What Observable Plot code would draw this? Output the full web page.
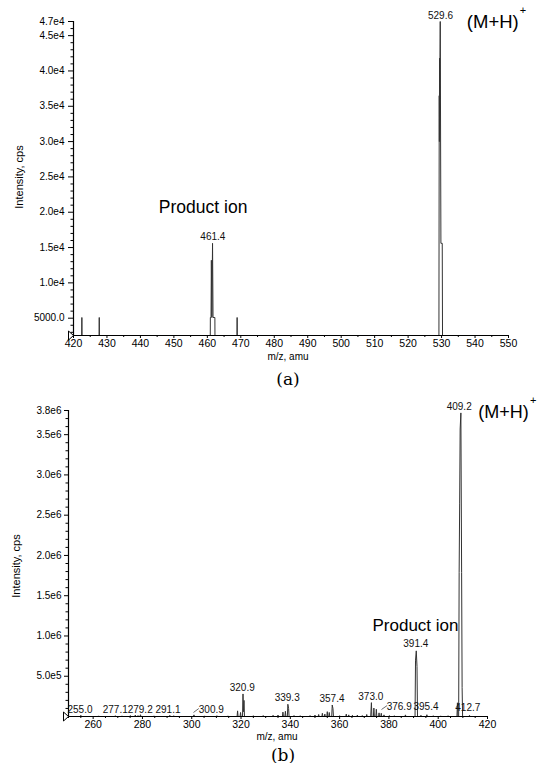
<!DOCTYPE html>
<html>
<head>
<meta charset="utf-8">
<script src="https://cdn.jsdelivr.net/npm/d3@7"></script>
<script src="https://cdn.jsdelivr.net/npm/@observablehq/plot@0.6"></script>
<style>
  html, body { margin: 0; padding: 0; background: #fff; }
  #wrap { position: relative; width: 538px; height: 763px; overflow: hidden; background: #fff;
          font-family: 'Liberation Sans', Arial, sans-serif; color: #000; }
  .lab { position: absolute; white-space: nowrap; line-height: 1; }
</style>
</head>
<body>
<div id="wrap"></div>
<script>
// ---------------- Spectrum (a) ----------------
const aXDomain = [420, 550];
const aYDomain = [2550, 47000];
const aXTicks = [420, 430, 440, 450, 460, 470, 480, 490, 500, 510, 520, 530, 540, 550];
const aYTicks = [5000, 10000, 15000, 20000, 25000, 30000, 35000, 40000, 45000, 47000];
const aMz = [420, 422.4, 422.5, 422.6, 427.6, 427.7, 427.8,
  460.85, 460.9, 461.1, 461.2, 461.35, 461.55, 461.7, 462.25, 462.3,
  468.8, 468.9, 469.0,
  529.2, 529.3, 529.35, 529.4, 529.45, 529.6, 529.8, 530.2, 530.3, 550];
const aIntensity = [0, 0, 5100, 0, 0, 5100, 0,
  0, 5100, 5100, 13200, 5100, 15600, 5100, 5100, 0,
  0, 5100, 0,
  0, 36500, 30000, 41800, 36000, 47000, 15600, 15600, 0, 0];
const aPeakLabels = ["461.4", "529.6"];
const aPeakLabelMz = [461.64, 529.68];
const aPeakLabelInt = [16466, 47850];
const aNotes = ["Product ion", "(M+H)", "+"];
const aNoteMz = [458.74, 545.31, 554.3];
const aNoteInt = [20712, 46900, 48557];

// ---------------- Spectrum (b) ----------------
const bXDomain = [250, 420];
const bYDomain = [0, 3800000];
const bXTicks = [260, 280, 300, 320, 340, 360, 380, 400, 420];
const bYTicks = [500000, 1000000, 1500000, 2000000, 2500000, 3000000, 3500000, 3800000];
const bMz = [250, 254.8, 255.0, 255.2, 262.0, 262.2, 262.4, 268.8, 269.0, 269.2, 271.5, 271.7, 271.9,
  274.9, 275.1, 275.3, 276.9, 277.1, 277.3, 278.0, 278.2, 278.4, 279.0, 279.2, 279.4,
  284.5, 284.7, 284.9, 290.9, 291.1, 291.3, 292.5, 292.7, 292.9, 300.7, 300.9, 301.1,
  305.0, 305.2, 305.4, 310.0, 310.2, 310.4, 314.5, 314.7, 314.9,
  318.4, 318.6, 318.8, 319.6, 319.8, 320.0, 320.6, 320.8, 321.0, 321.2, 321.4,
  324.8, 325.0, 325.2, 328.8, 329.0, 329.2, 332.8, 333.0, 333.2, 334.8, 335.0, 335.2,
  336.8, 337.0, 337.2, 337.8, 338.0, 338.2, 338.8, 339.0, 339.3, 339.5,
  341.3, 341.5, 341.7, 343.8, 344.0, 344.2, 347.8, 348.0, 348.2, 349.8, 350.0, 350.2,
  351.3, 351.5, 351.7, 352.8, 353.0, 353.2, 353.8, 354.0, 354.2, 354.8, 355.0, 355.2,
  355.6, 355.8, 356.0, 356.8, 357.0, 357.3, 357.5,
  359.8, 360.0, 360.2, 362.5, 362.7, 362.9, 363.5, 363.7, 363.9, 365.0, 365.2, 365.4,
  367.0, 367.2, 367.4, 369.0, 369.2, 369.4, 370.8, 371.0, 371.2,
  372.6, 372.9, 373.1, 373.7, 373.9, 374.1, 374.7, 374.9, 375.1, 375.8, 376.0, 376.2,
  376.7, 376.9, 377.1, 377.8, 378.0, 378.2, 380.0, 380.2, 380.4, 382.0, 382.2, 382.4,
  386.5, 386.7, 386.9, 390.6, 390.8, 391.1, 391.4, 391.6,
  392.8, 393.0, 393.2, 395.2, 395.4, 395.6, 397.8, 398.0, 398.2, 400.8, 401.0, 401.2,
  403.8, 404.0, 404.2, 407.6, 407.8, 408.0,
  408.3, 408.5, 408.7, 408.9, 409.2, 409.5, 409.7, 409.9, 412.5, 412.7, 412.9, 420];
const bIntensity = [0, 0, 15000, 0, 0, 8000, 0, 0, 10000, 0, 0, 8000, 0,
  0, 12000, 0, 0, 18000, 0, 0, 12000, 0, 0, 22000, 0,
  0, 8000, 0, 0, 15000, 0, 0, 10000, 0, 0, 20000, 0,
  0, 8000, 0, 0, 10000, 0, 0, 8000, 0,
  0, 70000, 0, 0, 50000, 0, 0, 280000, 60000, 200000, 0,
  0, 10000, 0, 0, 12000, 0, 0, 15000, 0, 0, 18000, 0,
  0, 55000, 0, 0, 65000, 0, 0, 152000, 100000, 0,
  0, 12000, 0, 0, 10000, 0, 0, 12000, 0, 0, 18000, 0,
  0, 25000, 0, 0, 40000, 0, 0, 30000, 0, 0, 60000, 0,
  0, 50000, 0, 0, 143000, 100000, 0,
  0, 10000, 0, 0, 30000, 0, 0, 20000, 0, 0, 15000, 0,
  0, 18000, 0, 0, 12000, 0, 0, 25000, 0,
  0, 172000, 0, 0, 105000, 0, 0, 90000, 0, 0, 45000, 0,
  0, 40000, 0, 0, 20000, 0, 0, 12000, 0, 0, 10000, 0,
  0, 20000, 0, 0, 700000, 815000, 620000, 0,
  0, 15000, 0, 0, 22000, 0, 0, 10000, 0, 0, 8000, 0,
  0, 10000, 0, 0, 170000, 0,
  0, 1790000, 2640000, 3570000, 3770000, 1790000, 360000, 0, 0, 15000, 0, 0];
const bPeakLabels = ["255.0", "277.1", "279.2", "291.1", "300.9", "320.9", "339.3", "357.4",
  "373.0", "376.9", "395.4", "412.7", "391.4", "409.2"];
const bPeakLabelMz = [254.67, 268.95, 279.09, 290.37, 307.94, 320.48, 338.73, 356.91,
  372.65, 384.17, 395.05, 412.0, 390.91, 408.52];
const bPeakLabelInt = [83200, 86900, 86900, 86900, 86900, 356400, 227200, 219800,
  248400, 124200, 124200, 103100, 902800, 3841000];
const bLeaderMz1 = [300.7, 376.99];
const bLeaderInt1 = [49700, 86900];
const bLeaderMz2 = [302.87, 379.3];
const bLeaderInt2 = [99000, 136600];
const bNotes = ["Product ion", "(M+H)", "+"];
const bNoteMz = [390.79, 426.49, 438.54];
const bNoteInt = [1130000, 3779000, 3924000];

// ---------------- helpers ----------------
const FONT = "'Liberation Sans', Arial, sans-serif";
const LINE = "#333";
const zipXY = (xs, ys) => xs.map((x, i) => ({mz: x, intensity: ys[i]}));
const zipText = (t, xs, ys) => t.map((s, i) => ({text: s, mz: xs[i], intensity: ys[i]}));
const originMarker = {
  draw(ctx) { ctx.moveTo(-3, -4.5); ctx.lineTo(2, 0); ctx.lineTo(-3, 4.5); ctx.closePath(); }
};
const fmtA = d => d < 10000 ? d.toFixed(1) : d.toExponential(1).replace("e+", "e");
const fmtB = d => d.toExponential(1).replace("e+", "e");

function spectrum(cfg) {
  const minorY = d3.range(cfg.yMinorStart, cfg.yDomain[1] + 1, cfg.yMinorStep).filter(v => !cfg.yTicks.includes(v));
  const minorX = d3.range(cfg.xDomain[0], cfg.xDomain[1] + 0.001, cfg.xMinorStep).filter(v => !cfg.xTicks.includes(v));
  const notes = cfg.notes;
  return Plot.plot({
    width: 538, height: cfg.height,
    marginLeft: cfg.ml, marginRight: cfg.mr, marginTop: cfg.mt, marginBottom: cfg.mb,
    x: {domain: cfg.xDomain},
    y: {domain: cfg.yDomain},
    style: {fontFamily: FONT, fontSize: "10px", color: "#000", background: "transparent",
            position: "absolute", left: "0px", top: cfg.top + "px", overflow: "visible"},
    marks: [
      Plot.line(cfg.spec, {x: "mz", y: "intensity", stroke: LINE, strokeWidth: 1, clip: true}),
      Plot.ruleX([cfg.xDomain[0]], {stroke: "#000", strokeWidth: 1.2}),
      Plot.ruleY([cfg.yDomain[0]], {stroke: "#000", strokeWidth: 1.2}),
      Plot.axisY(cfg.yTicks, {tickSize: cfg.yTickSize, tickPadding: cfg.yTickPad, tickFormat: cfg.fmt, label: null, fontSize: 10}),
      Plot.axisY(minorY, {tickSize: 2.5, tickFormat: () => "", label: null}),
      Plot.axisX(cfg.xTicks, {tickSize: 3, tickPadding: 1, tickFormat: d => String(d), label: null, fontSize: 10.5}),
      Plot.axisX(minorX, {tickSize: 2, tickFormat: () => "", label: null}),
      Plot.dot([0], {frameAnchor: "bottom-left", dx: -2, symbol: originMarker, r: 4, stroke: "#000", fill: "#fff", strokeWidth: 1}),
      ...(cfg.leaders ? [Plot.link(cfg.leaders, {x1: "x1", y1: "y1", x2: "x2", y2: "y2", stroke: "#444", strokeWidth: 0.8})] : []),
      Plot.text(cfg.labels, {x: "mz", y: "intensity", text: "text", fontSize: 10, fill: "#111", lineAnchor: "middle"}),
      Plot.text(notes.slice(0, 1), {x: "mz", y: "intensity", text: "text", fontSize: cfg.noteSize, fill: "#000", lineAnchor: "middle"}),
      Plot.text(notes.slice(1, 2), {x: "mz", y: "intensity", text: "text", fontSize: cfg.mhSize, fill: "#000", lineAnchor: "middle"}),
      Plot.text(notes.slice(2, 3), {x: "mz", y: "intensity", text: "text", fontSize: 11, fill: "#000", lineAnchor: "middle"})
    ]
  });
}

const wrap = document.getElementById("wrap");

wrap.appendChild(spectrum({
  top: 0, height: 352, ml: 73, mr: 30, mt: 21, mb: 17,
  xDomain: aXDomain, yDomain: aYDomain, xTicks: aXTicks, yTicks: aYTicks,
  yMinorStart: 3000, yMinorStep: 1000, xMinorStep: 5, yTickSize: 5, yTickPad: 4, fmt: fmtA,
  spec: zipXY(aMz, aIntensity),
  labels: zipText(aPeakLabels, aPeakLabelMz, aPeakLabelInt),
  notes: zipText(aNotes, aNoteMz, aNoteInt), noteSize: 17.5, mhSize: 18.5
}));

wrap.appendChild(spectrum({
  top: 390, height: 343, ml: 68, mr: 51, mt: 20, mb: 17,
  xDomain: bXDomain, yDomain: bYDomain, xTicks: bXTicks, yTicks: bYTicks,
  yMinorStart: 100000, yMinorStep: 100000, xMinorStep: 5, yTickSize: 4, yTickPad: 3, fmt: fmtB,
  spec: zipXY(bMz, bIntensity),
  labels: zipText(bPeakLabels, bPeakLabelMz, bPeakLabelInt),
  leaders: bLeaderMz1.map((x, i) => ({x1: x, y1: bLeaderInt1[i], x2: bLeaderMz2[i], y2: bLeaderInt2[i]})),
  notes: zipText(bNotes, bNoteMz, bNoteInt), noteSize: 17, mhSize: 18
}));

// out-of-frame texts
function addLabel(text, cx, cy, css, rotate) {
  const el = document.createElement("div");
  el.className = "lab";
  el.textContent = text;
  el.style.left = cx + "px";
  el.style.top = cy + "px";
  el.style.transform = "translate(-50%, -50%)" + (rotate ? " rotate(-90deg)" : "");
  Object.assign(el.style, css);
  wrap.appendChild(el);
}
const axisCss = {fontSize: "11px", fontFamily: FONT};
const xCss = {fontSize: "10px", fontFamily: FONT};
const capCss = {fontSize: "17px", fontFamily: "'DejaVu Serif', 'Liberation Serif', serif"};
addLabel("Intensity, cps", 19, 177, axisCss, true);
addLabel("m/z, amu", 288, 357, xCss, false);
addLabel("(a)", 288, 379, capCss, false);
addLabel("Intensity, cps", 16, 566, axisCss, true);
addLabel("m/z, amu", 277, 737, xCss, false);
addLabel("(b)", 283, 755, capCss, false);
</script>
</body>
</html>
